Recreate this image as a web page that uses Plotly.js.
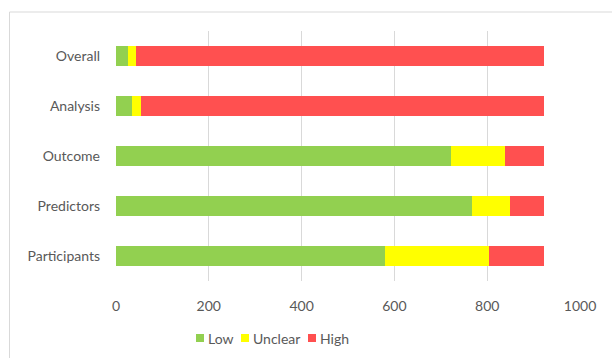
<!DOCTYPE html>
<html>
<head>
<meta charset="utf-8">
<script src="https://cdn.plot.ly/plotly-3.0.1.min.js"></script>
<style>html,body{margin:0;padding:0;background:#fff;}#chart{width:612px;height:358px;}</style>
</head>
<body>
<div id="chart"></div>
<script>
var categories = ["Participants", "Predictors", "Outcome", "Analysis", "Overall"];
var lowValues = [579, 768, 722, 34, 26];
var unclearValues = [224, 82, 116, 19, 18];
var highValues = [119, 72, 84, 869, 878];
var seriesNames = ["Low", "Unclear", "High"];
var seriesColors = ["#92d050", "#ffff00", "#ff5050"];
var xTicks = [0, 200, 400, 600, 800, 1000];

var W = 612, H = 358;
var M = { l: 116, r: 32, t: 31, b: 77 };
var PW = W - M.l - M.r, PH = H - M.t - M.b;
function px2x(p) { return (p - M.l) / PW; }
function px2y(p) { return (H - M.b - p) / PH; }

var allValues = [lowValues, unclearValues, highValues];
var data = allValues.map(function (vals, i) {
  return {
    type: "bar",
    orientation: "h",
    name: seriesNames[i],
    y: categories,
    x: vals,
    marker: { color: seriesColors[i], line: { width: 0 } },
    hoverinfo: "x+name",
    showlegend: false
  };
});

// custom legend (compact, like the reference)
var legendStarts = [196, 241, 308];
var legendY = 338;
var shapes = [{
  type: "rect", xref: "paper", yref: "paper",
  x0: px2x(9.5), x1: px2x(640), y0: px2y(400), y1: px2y(12),
  line: { color: "#d9d9d9", width: 1 }, fillcolor: "rgba(0,0,0,0)", layer: "below"
}];
var annotations = [];
seriesNames.forEach(function (name, i) {
  var s = legendStarts[i];
  shapes.push({
    type: "rect", xref: "paper", yref: "paper",
    x0: px2x(s), x1: px2x(s + 8), y0: px2y(legendY + 4), y1: px2y(legendY - 4),
    line: { width: 0 }, fillcolor: seriesColors[i]
  });
  annotations.push({
    xref: "paper", yref: "paper", x: px2x(s + 10), y: px2y(legendY),
    xanchor: "left", yanchor: "middle", showarrow: false, text: name,
    font: { size: 14, color: "#595959" }
  });
});

var layout = {
  width: W,
  height: H,
  barmode: "stack",
  bargap: 0.6,
  margin: M,
  paper_bgcolor: "#ffffff",
  plot_bgcolor: "#ffffff",
  font: { family: "Lato, 'Open Sans', sans-serif", size: 14, color: "#595959" },
  xaxis: {
    range: [0, 1000],
    tickvals: xTicks,
    ticktext: xTicks.map(String),
    showgrid: true,
    gridcolor: "#d9d9d9",
    gridwidth: 1,
    zeroline: false,
    showline: false,
    ticks: "",
    ticklabelstandoff: 15,
    tickfont: { size: 14, color: "#595959" },
    fixedrange: true
  },
  yaxis: {
    type: "category",
    categoryorder: "array",
    categoryarray: categories,
    showgrid: false,
    zeroline: false,
    showline: false,
    ticks: "",
    ticklabelstandoff: 15,
    tickfont: { size: 14, color: "#595959" },
    fixedrange: true
  },
  shapes: shapes,
  annotations: annotations,
  showlegend: false
};

Plotly.newPlot("chart", data, layout, { displayModeBar: false, staticPlot: true });
</script>
</body>
</html>
